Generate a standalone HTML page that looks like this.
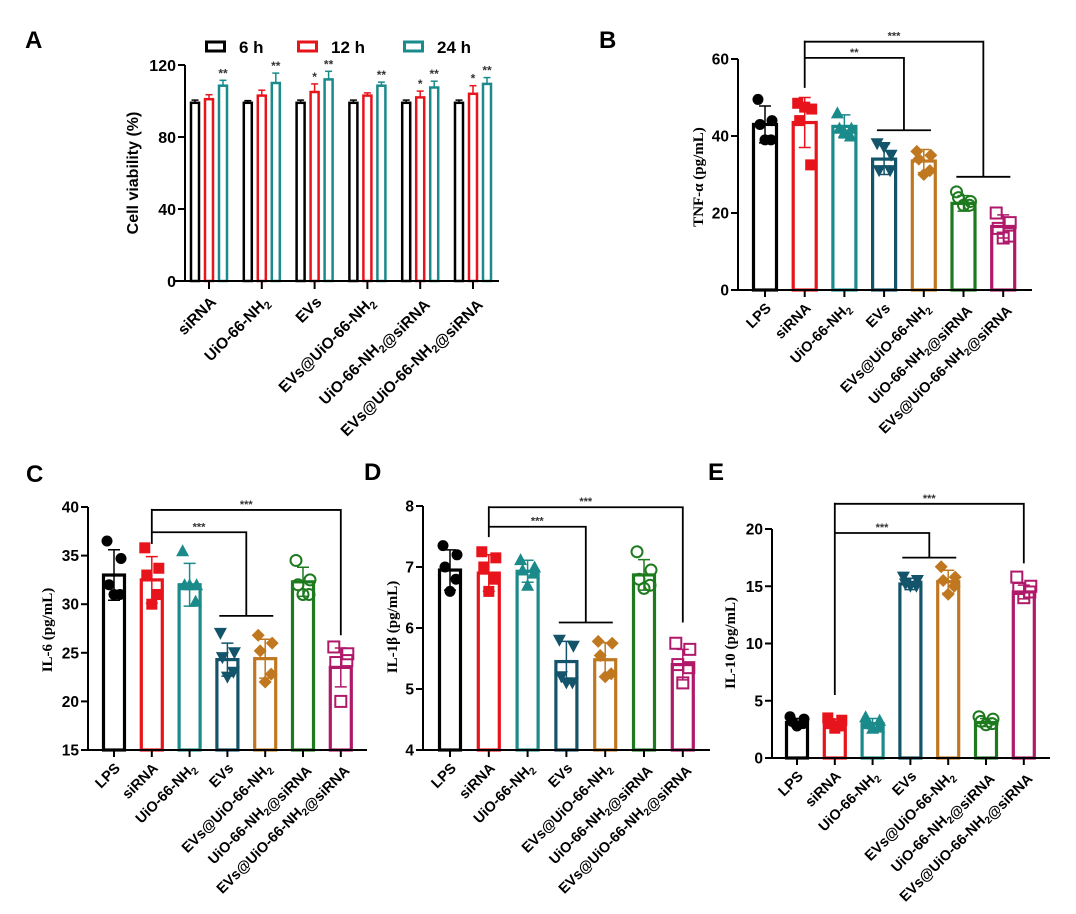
<!DOCTYPE html>
<html><head><meta charset="utf-8"><style>
html,body{margin:0;padding:0;background:#fff}
svg{display:block}
text{font-family:"Liberation Sans",Arial,sans-serif;font-weight:bold}
.serif{font-family:"Liberation Serif","Times New Roman",serif}
</style></head>
<body>
<svg id="fig" width="1076" height="914" viewBox="0 0 1076 914" xmlns="http://www.w3.org/2000/svg">
<rect width="1076" height="914" fill="#fff"/>
</svg>
<script>
// ---------- Panel A data ----------
const aCategories = ["siRNA","UiO-66-NH2","EVs","EVs@UiO-66-NH2","UiO-66-NH2@siRNA","EVs@UiO-66-NH2@siRNA"];
const aSeriesNames = ["6 h","12 h","24 h"];
const a6h = [99,99,99,99,99,99];
const a12h = [101,103,105,103,102,104];
const a24h = [108.5,110,112,108.5,107.5,109.5];
const a6hSd = [1.5,1.2,1.5,1.5,1.5,1.5];
const a12hSd = [2.5,3,4.5,1.5,3.5,4.5];
const a24hSd = [3,5.5,4.5,2,3.5,3.5];
const a12hSig = ["","","*","","*","*"];
const a24hSig = ["**","**","**","**","**","**"];
const aTicks = [0,40,80,120];

// ---------- shared categories for B-E ----------
const groups = ["LPS","siRNA","UiO-66-NH2","EVs","EVs@UiO-66-NH2","UiO-66-NH2@siRNA","EVs@UiO-66-NH2@siRNA"];

// ---------- Panel B (TNF-a) ----------
const bMeans = [43,43.5,42.5,34,33.5,22.5,16.5];
const bSd = [4.8,6.5,3,4,3,2,3];
const bPoints = [[49.5,44,43,39,39],[48.5,47,44,32.5,47.5],[46,42,42,40,41],[38,35,31,31,37],[36,35,34,31,30],[25.5,23,24,22,22],[20,17.5,16,14,13.5]];
const bTicks = [0,20,40,60];

// ---------- Panel C (IL-6) ----------
const cMeans = [33,32.5,32,24.3,24.4,32.3,23.5];
const cSd = [2.6,2.4,2.2,1.7,2.0,1.5,2.0];
const cPoints = [[36.5,34.7,32,31,31],[35.8,33.7,33,31,30],[35.5,32,32,30.3,32],[27,25,24.5,23,22.5],[26.8,26,25.2,22.8,22],[34.5,32.5,32,31,31],[25.6,24.9,24,24.2,20]];
const cTicks = [15,20,25,30,35,40];

// ---------- Panel D (IL-1b) ----------
const dMeans = [6.95,6.9,6.93,5.45,5.48,6.87,5.4];
const dSd = [0.33,0.3,0.18,0.33,0.28,0.25,0.25];
const dPoints = [[7.35,7.2,7.0,6.8,6.6],[7.25,7.15,7.0,6.8,6.6],[7.12,7.0,6.95,6.9,6.7],[5.8,5.7,5.2,5.1,5.1],[5.78,5.75,5.55,5.25,5.2],[7.25,6.95,6.8,6.7,6.65],[5.75,5.65,5.4,5.35,5.1]];
const dTicks = [4,5,6,7,8];

// ---------- Panel E (IL-10) ----------
const eMeans = [3.1,3.0,3.0,15.2,15.4,3.1,14.5];
const eSd = [0.35,0.4,0.45,0.5,1.0,0.35,0.6];
const ePoints = [[3.6,3.4,3.2,3.0,2.8],[3.5,3.3,3.0,2.8,2.6],[3.6,3.3,3.0,2.7,2.6],[15.8,15.5,15.2,15.0,15.0],[16.7,15.8,15.5,15.0,14.3],[3.6,3.4,3.2,3.0,2.9],[15.8,15.0,14.8,14.5,14.0]];
const eTicks = [0,5,10,15,20];

// brackets: [targetStart, targetEnd, topValue, dropValue, label]
const bBrackets = [[3,4,60.3,41.5,"**"],[5,6,64.5,29.4,"***"]];
const cBrackets = [[3,4,37.4,28.8,"***"],[6,6,39.7,26.8,"***"]];
const dBrackets = [[3,4,7.66,6.09,"***"],[6,6,7.98,6.09,"***"]];
const eBrackets = [[3,4,19.65,17.5,"***"],[6,6,22.2,17.0,"***"]];
const bSiEnd = 52.5, cSiEnd = 36.2, dSiEnd = 7.49, eSiEnd = 5.5;

const colors = ["#000000","#e8141c","#1b8a8a","#13546a","#c07820","#1e7a1e","#b0196a"];
const markers = ["circle","square","tri","tridown","diamond","ocircle","osquare"];
const NS = "http://www.w3.org/2000/svg";
const svg = document.getElementById("fig");

function el(tag, attrs, parent){
  const e = document.createElementNS(NS, tag);
  for (const k in attrs) e.setAttribute(k, attrs[k]);
  (parent||svg).appendChild(e);
  return e;
}
function label(txt, x, y, size, rot, parent){
  const t = el("text",{x:x,y:y,"font-size":size,"text-anchor":"end",transform:"rotate("+rot+" "+x+" "+y+")"},parent);
  const parts = txt.split("NH2");
  parts.forEach((p,i)=>{
    const s = document.createElementNS(NS,"tspan"); s.textContent = p; t.appendChild(s);
    if (i<parts.length-1){
      const a = document.createElementNS(NS,"tspan"); a.textContent="NH"; t.appendChild(a);
      const b = document.createElementNS(NS,"tspan"); b.textContent="2"; b.setAttribute("font-size",size*0.7); b.setAttribute("dy",size*0.25); t.appendChild(b);
      const c = document.createElementNS(NS,"tspan"); c.textContent=""; c.setAttribute("dy",-size*0.25); t.appendChild(c);
    }
  });
  return t;
}
function panelLetter(txt,x,y){
  const t = el("text",{x:x,y:y,"font-size":24});
  t.textContent = txt;
  
  
}

// ---------------- Panel A ----------------
(function(){
  const g = el("g",{});
  
  
  const x0=185, x1=499, yB=281, yT=65, vmax=120;
  const y = v => yB - (v/vmax)*(yB-yT);
  const cx = i => 209 + i*52.8;
  const series=[a6h,a12h,a24h], sds=[a6hSd,a12hSd,a24hSd], cols=["#000","#e8141c","#1b8a8a"];
  series.forEach((s,si)=>{
    s.forEach((v,i)=>{
      const bx = cx(i) + (si-1)*14;
      const sd = sds[si][i];
      const l = el("line",{x1:bx,x2:bx,y1:y(v),y2:y(v+sd),stroke:cols[si],"stroke-width":1.5},g);
      
      
      el("line",{x1:bx-3.5,x2:bx+3.5,y1:y(v+sd),y2:y(v+sd),stroke:cols[si],"stroke-width":1.5},g);
      const r = el("rect",{x:bx-4,y:y(v),width:8,height:yB-y(v),fill:"#fff",stroke:cols[si],"stroke-width":2.5},g);
      
      
      const sig = si===1 ? a12hSig[i] : (si===2 ? a24hSig[i] : "");
      if (sig){
        const t = el("text",{x:bx,y:y(v+sd)-3,"font-size":12,"text-anchor":"middle","font-weight":"normal",fill:"#333"},g);
        t.textContent = sig;
        
        
      }
    });
  });
  el("line",{x1:x0,x2:x0,y1:yT,y2:yB+1,stroke:"#000","stroke-width":2},g);
  el("line",{x1:x0-10,x2:x1,y1:yB,y2:yB,stroke:"#000","stroke-width":2},g);
  aTicks.forEach(v=>{
    el("line",{x1:x0-7,x2:x0,y1:y(v),y2:y(v),stroke:"#000","stroke-width":2},g);
    const t = el("text",{x:x0-9,y:y(v)+6,"font-size":16,"text-anchor":"end"},g);
    t.textContent=v;
    
    
  });
  aCategories.forEach((c,i)=>{
    el("line",{x1:cx(i),x2:cx(i),y1:yB,y2:yB+8,stroke:"#000","stroke-width":2},g);
    const t = label(c, cx(i)+8, yB+22, 15.5, -45, g);
    
    
  });
  const yt = el("text",{x:0,y:0,"font-size":16,"text-anchor":"middle",transform:"translate(138 173) rotate(-90)"},g);
  yt.textContent="Cell viability (%)";
  
  
  const lx=[205,297,403];
  aSeriesNames.forEach((n,i)=>{
    const lg = el("g",{},g);
    
    
    el("rect",{x:lx[i]+1.5,y:42,width:18,height:9,fill:"#fff",stroke:cols[i],"stroke-width":3},lg);
    const t = el("text",{x:lx[i]+34,y:53,"font-size":17},lg);
    t.textContent=n;
  });
})();
panelLetter("A",25,48);

// ---------------- Panels B-E ----------------
function marker(type, x, y, col, parent){
  let m;
  const r=5.5;
  if (type==="circle") m=el("circle",{cx:x,cy:y,r:r,fill:col},parent);
  else if (type==="ocircle") m=el("circle",{cx:x,cy:y,r:r,fill:"none",stroke:col,"stroke-width":2},parent);
  else if (type==="square") m=el("rect",{x:x-r,y:y-r,width:2*r,height:2*r,fill:col},parent);
  else if (type==="osquare") m=el("rect",{x:x-r,y:y-r,width:2*r,height:2*r,fill:"none",stroke:col,"stroke-width":2},parent);
  else if (type==="tri") m=el("polygon",{points:`${x},${y-r-1} ${x-r-1},${y+r} ${x+r+1},${y+r}`,fill:col},parent);
  else if (type==="tridown") m=el("polygon",{points:`${x},${y+r+1} ${x-r-1},${y-r} ${x+r+1},${y-r}`,fill:col},parent);
  else m=el("polygon",{points:`${x},${y-r-1} ${x+r+1},${y} ${x},${y+r+1} ${x-r-1},${y}`,fill:col},parent);
  return m;
}
const jitter=[-7,7,-5,6,0];

function drawPanel(cfg){
  const g = el("g",{});
  
  
  const {x0,x1,yB,yT,vmin,vmax,c0,step,bw} = cfg;
  const y = v => yB - (v-vmin)/(vmax-vmin)*(yB-yT);
  const cx = i => c0 + i*step;
  cfg.means.forEach((v,i)=>{
    const col=colors[i];
    const r = el("rect",{x:cx(i)-bw/2+1.5,y:y(v),width:bw-3,height:yB-y(v),fill:"#fff",stroke:col,"stroke-width":3.2},g);
    
    
    cfg.points[i].forEach((p,k)=>{
      const m = marker(markers[i], cx(i)+jitter[k], y(p), col, g);
      
      
    });
    const sd = cfg.sd[i];
    const e = el("path",{d:`M${cx(i)},${y(v-sd)}V${y(v+sd)}M${cx(i)-6},${y(v+sd)}H${cx(i)+6}M${cx(i)-6},${y(v-sd)}H${cx(i)+6}`,stroke:col,"stroke-width":1.5,fill:"none"},g);
    
    
  });
  el("line",{x1:x0,x2:x0,y1:yT,y2:yB+1,stroke:"#000","stroke-width":2},g);
  el("line",{x1:x0-7,x2:x1,y1:yB,y2:yB,stroke:"#000","stroke-width":2},g);
  cfg.ticks.forEach(v=>{
    el("line",{x1:x0-7,x2:x0,y1:y(v),y2:y(v),stroke:"#000","stroke-width":2},g);
    const t = el("text",{x:x0-9,y:y(v)+5.5,"font-size":15.5,"text-anchor":"end"},g);
    t.textContent=v;
    
    
  });
  groups.forEach((c,i)=>{
    el("line",{x1:cx(i),x2:cx(i),y1:yB,y2:yB+7,stroke:"#000","stroke-width":2},g);
    const t = label(c, cx(i)+7, yB+19, 14.5, -45, g);
    
    
  });
  const yt = el("text",{x:0,y:0,"font-size":15,"text-anchor":"middle","class":"serif",transform:`translate(${cfg.titleX} ${cfg.titleY}) rotate(-90)`},g);
  yt.textContent=cfg.title;
  
  
  const sx = cx(1);
  const topMax = Math.max(...cfg.brackets.map(b=>b[2]));
  el("line",{x1:sx,x2:sx,y1:y(topMax)-1,y2:y(cfg.siEnd),stroke:"#000","stroke-width":1.8},g);
  cfg.brackets.forEach(b=>{
    const bg = el("g",{},g);
    
    
    const mid = (cx(b[0])+cx(b[1]))/2;
    el("path",{d:`M${sx},${y(b[2])}H${mid}V${y(b[3])}`,stroke:"#000","stroke-width":1.8,fill:"none"},bg);
    if (b[0]!==b[1]) el("line",{x1:mid-27,x2:mid+27,y1:y(b[3]),y2:y(b[3]),stroke:"#000","stroke-width":1.8},bg);
    const t = el("text",{x:(sx+mid)/2,y:y(b[2])-2,"font-size":11,"text-anchor":"middle","font-weight":"normal",fill:"#333"},bg);
    t.textContent=b[4];
  });
}

drawPanel({name:"panel-b-tnf-alpha",x0:738,x1:1032,yB:290,yT:59,vmin:0,vmax:60,c0:765,step:39.7,bw:26,
  means:bMeans,sd:bSd,points:bPoints,ticks:bTicks,brackets:bBrackets,siEnd:bSiEnd,title:"TNF-α (pg/mL)",titleX:703,titleY:177});
drawPanel({name:"panel-c-il6",x0:88,x1:367,yB:750,yT:507,vmin:15,vmax:40,c0:114,step:37.8,bw:24,
  means:cMeans,sd:cSd,points:cPoints,ticks:cTicks,brackets:cBrackets,siEnd:cSiEnd,title:"IL-6 (pg/mL)",titleX:52,titleY:630});
drawPanel({name:"panel-d-il1b",x0:423,x1:710,yB:750,yT:506,vmin:4,vmax:8,c0:450,step:38.8,bw:24,
  means:dMeans,sd:dSd,points:dPoints,ticks:dTicks,brackets:dBrackets,siEnd:dSiEnd,title:"IL-1β (pg/mL)",titleX:397,titleY:627});
drawPanel({name:"panel-e-il10",x0:772,x1:1050,yB:758,yT:529,vmin:0,vmax:20,c0:797,step:37.8,bw:24,
  means:eMeans,sd:eSd,points:ePoints,ticks:eTicks,brackets:eBrackets,siEnd:eSiEnd,title:"IL-10 (pg/mL)",titleX:735,titleY:643});

panelLetter("B",599,48);
panelLetter("C",26,482);
panelLetter("D",364,480);
panelLetter("E",708,480);
</script>
</body></html>
